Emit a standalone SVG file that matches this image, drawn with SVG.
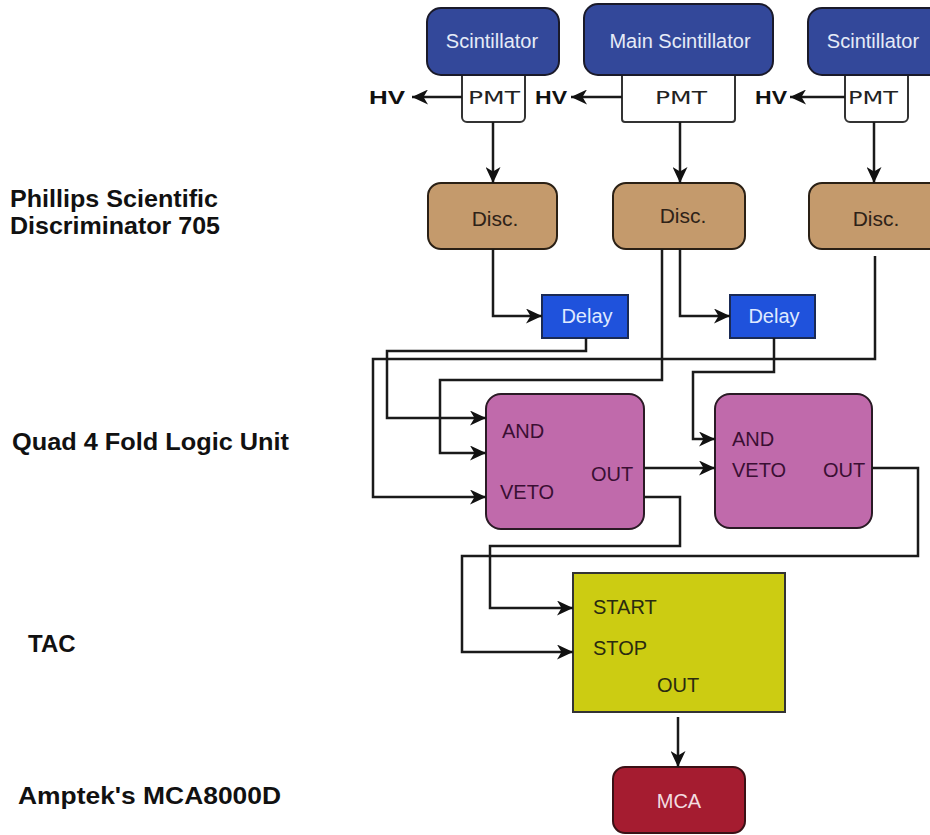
<svg xmlns="http://www.w3.org/2000/svg" width="930" height="835" viewBox="0 0 930 835">
<defs>
<marker id="ah" markerUnits="userSpaceOnUse" markerWidth="16" markerHeight="15" refX="16" refY="7.5" orient="auto">
<path d="M0,0 L16,7.5 L0,15 L4.5,7.5 z" fill="#111"/>
</marker>
<style>
.lbl{font-family:"Liberation Sans",Arial,sans-serif;font-weight:bold;font-size:24px;fill:#111}
.scint{fill:#33489a;stroke:#1a1a2a;stroke-width:2}
.st{font-family:"Liberation Sans",Arial,sans-serif;font-size:20px;fill:#e6ebf7;text-anchor:middle}
.pmt{fill:#fff;stroke:#333;stroke-width:2}
.pt{font-family:"DejaVu Sans",sans-serif;font-size:18px;fill:#222;text-anchor:middle}
.hv{font-family:"Liberation Sans",Arial,sans-serif;font-weight:bold;font-size:18px;fill:#111}
.disc{fill:#c49a6c;stroke:#2a2015;stroke-width:2}
.dt{font-family:"Liberation Sans",Arial,sans-serif;font-size:21px;fill:#2e2218;text-anchor:middle}
.delay{fill:#1f52dc;stroke:#1a2a55;stroke-width:2}
.delt{font-family:"Liberation Sans",Arial,sans-serif;font-size:20px;fill:#dfe9ff;text-anchor:middle}
.logic{fill:#c06aab;stroke:#2a1a25;stroke-width:2}
.lt{font-family:"Liberation Sans",Arial,sans-serif;font-size:20px;fill:#3a0f33}
.tac{fill:#cccc12;stroke:#333;stroke-width:2}
.tt{font-family:"Liberation Sans",Arial,sans-serif;font-size:20px;fill:#2a2a10}
.mca{fill:#a51c30;stroke:#3a1015;stroke-width:2}
.mt{font-family:"Liberation Sans",Arial,sans-serif;font-size:20px;fill:#f3dde0;text-anchor:middle}
.c{fill:none;stroke:#1a1a1a;stroke-width:2.5}
.a{marker-end:url(#ah)}
</style>
</defs>
<rect width="930" height="835" fill="#fff"/>

<g id="labels">
<text class="lbl" x="10" y="207" textLength="208" lengthAdjust="spacingAndGlyphs">Phillips Scientific</text>
<text class="lbl" x="10" y="234" textLength="210" lengthAdjust="spacingAndGlyphs">Discriminator 705</text>
<text class="lbl" x="12" y="450" textLength="277" lengthAdjust="spacingAndGlyphs">Quad 4 Fold Logic Unit</text>
<text class="lbl" x="28" y="652">TAC</text>
<text class="lbl" x="18" y="804" textLength="263" lengthAdjust="spacingAndGlyphs">Amptek's MCA8000D</text>
</g>

<g id="pmt1"><rect class="pmt" x="462" y="66" width="63" height="56" rx="5"/><text class="pt" x="494" y="104" textLength="52" lengthAdjust="spacingAndGlyphs">PMT</text></g>
<g id="pmt2"><rect class="pmt" x="622" y="66" width="113" height="56" rx="3"/><text class="pt" x="681" y="104" textLength="52" lengthAdjust="spacingAndGlyphs">PMT</text></g>
<g id="pmt3"><rect class="pmt" x="845" y="66" width="63" height="56" rx="5"/><text class="pt" x="873" y="104" textLength="50" lengthAdjust="spacingAndGlyphs">PMT</text></g>

<g id="scint1"><rect class="scint" x="427" y="8" width="132" height="67" rx="14"/><text class="st" x="492" y="48">Scintillator</text></g>
<g id="scint2"><rect class="scint" x="584" y="4" width="189" height="71" rx="14"/><text class="st" x="680" y="48">Main Scintillator</text></g>
<g id="scint3"><rect class="scint" x="808" y="8" width="140" height="67" rx="14"/><text class="st" x="873" y="48">Scintillator</text></g>

<g id="hv1"><text class="hv" x="369" y="104" textLength="36" lengthAdjust="spacingAndGlyphs">HV</text></g>
<g id="hv2"><text class="hv" x="535" y="104" textLength="32" lengthAdjust="spacingAndGlyphs">HV</text></g>
<g id="hv3"><text class="hv" x="755" y="104" textLength="32" lengthAdjust="spacingAndGlyphs">HV</text></g>

<g id="disc1"><rect class="disc" x="428" y="183" width="129" height="66" rx="13"/><text class="dt" x="495" y="226">Disc.</text></g>
<g id="disc2"><rect class="disc" x="613" y="183" width="132" height="66" rx="13"/><text class="dt" x="683" y="223">Disc.</text></g>
<g id="disc3"><rect class="disc" x="809" y="183" width="140" height="66" rx="13"/><text class="dt" x="876" y="226">Disc.</text></g>

<g id="delay1"><rect class="delay" x="542" y="295" width="86" height="43"/><text class="delt" x="587" y="323">Delay</text></g>
<g id="delay2"><rect class="delay" x="730" y="295" width="85" height="43"/><text class="delt" x="774" y="323">Delay</text></g>

<g id="logic1"><rect class="logic" x="486" y="394" width="158" height="135" rx="15"/>
<text class="lt" x="502" y="438">AND</text><text class="lt" x="500" y="499">VETO</text><text class="lt" x="591" y="481">OUT</text></g>
<g id="logic2"><rect class="logic" x="715" y="394" width="157" height="134" rx="15"/>
<text class="lt" x="732" y="446">AND</text><text class="lt" x="732" y="477">VETO</text><text class="lt" x="823" y="477">OUT</text></g>

<g id="tac"><rect class="tac" x="573" y="573" width="212" height="139"/>
<text class="tt" x="593" y="614">START</text><text class="tt" x="593" y="655">STOP</text><text class="tt" x="657" y="692">OUT</text></g>

<g id="mca"><rect class="mca" x="613" y="767" width="132" height="66" rx="12"/><text class="mt" x="679" y="808">MCA</text></g>

<g id="connectors">
<path class="c a" d="M462,97 H412"/>
<path class="c a" d="M622,97 H571"/>
<path class="c a" d="M845,97 H790"/>
<path class="c a" d="M493,122 V183"/>
<path class="c a" d="M680,122 V183"/>
<path class="c a" d="M874,122 V183"/>
<path class="c a" d="M493,249 V316 H542"/>
<path class="c a" d="M680,249 V316 H730"/>
<path class="c a" d="M586,338 V351 H387 V418 H486"/>
<path class="c a" d="M662,249 V380 H440 V453 H486"/>
<path class="c a" d="M875,256 V359 H373 V497 H486"/>
<path class="c a" d="M774,338 V372 H693 V439 H715"/>
<path class="c a" d="M644,468 H715"/>
<path class="c a" d="M644,497 H680 V546 H490 V608 H573"/>
<path class="c a" d="M872,468 H918 V556 H462 V652 H573"/>
<path class="c a" d="M678,717 V767"/>
</g>
</svg>
